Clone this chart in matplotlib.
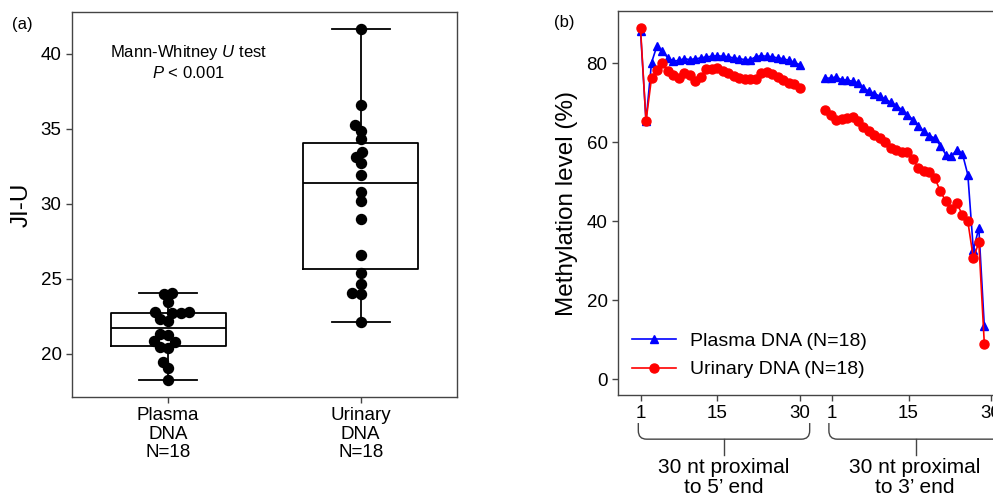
"""Panel (a) JI-U box plot with swarm points, panel (b) end-methylation profile."""

import matplotlib

matplotlib.use("Agg")

import matplotlib.pyplot as plt
import numpy as np
from matplotlib.patches import PathPatch
from matplotlib.path import Path
from matplotlib.transforms import blended_transform_factory

plt.rcParams["font.family"] = ["Liberation Sans", "DejaVu Sans"]
plt.rcParams["mathtext.fontset"] = "custom"
plt.rcParams["mathtext.rm"] = "Liberation Sans"
plt.rcParams["mathtext.it"] = "Liberation Sans:italic"

# ---- data ----
groups = ["Plasma\nDNA\nN=18", "Urinary\nDNA\nN=18"]
plasma_jiu = [18.29, 19.05, 19.49, 20.40, 20.44, 20.78, 20.84, 21.25, 21.30,
              22.20, 22.32, 22.70, 22.74, 22.77, 22.80, 23.49, 23.98, 24.04]
urinary_jiu = [22.13, 24.00, 24.09, 24.64, 25.38, 26.60, 28.98, 30.20, 30.82,
               31.93, 32.71, 33.16, 33.49, 34.30, 34.87, 35.27, 36.60, 41.65]

positions = np.arange(1, 31)
plasma_5p = [88.1, 65.3, 80.1, 84.4, 83.0, 81.3, 80.5, 80.7, 81.1, 80.9,
             81.1, 81.3, 81.6, 81.7, 81.9, 81.7, 81.6, 81.3, 81.1, 80.9,
             80.9, 81.6, 81.9, 81.7, 81.6, 81.3, 81.1, 80.7, 80.2, 79.6]
urinary_5p = [88.8, 65.3, 76.2, 78.3, 80.0, 77.9, 77.1, 76.2, 77.5, 77.1,
              75.4, 76.5, 78.4, 78.5, 78.8, 77.9, 77.5, 76.8, 76.2, 76.0,
              76.0, 76.0, 77.5, 77.7, 77.3, 76.5, 75.8, 75.0, 74.6, 73.7]
plasma_3p = [76.2, 76.2, 76.5, 75.8, 75.7, 75.4, 75.0, 73.7, 72.9, 72.3,
             71.6, 70.8, 70.1, 69.2, 68.2, 66.9, 65.7, 64.2, 62.7, 61.6,
             61.0, 59.1, 56.8, 56.4, 58.1, 57.1, 51.7, 32.7, 38.2, 13.3]
urinary_3p = [68.2, 66.9, 65.7, 65.9, 66.2, 66.4, 65.3, 63.8, 62.7, 61.9,
              61.0, 59.9, 58.5, 57.9, 57.6, 57.4, 55.7, 53.4, 52.8, 52.3,
              50.9, 47.5, 45.0, 43.0, 44.5, 41.6, 39.9, 30.6, 34.6, 8.9]
pos_ticks = [1, 15, 30]
series_labels = ["Plasma DNA (N=18)", "Urinary DNA (N=18)"]
region_labels = ["30 nt proximal\nto 5\u2019 end", "30 nt proximal\nto 3\u2019 end"]

SPINE = "#444444"
W, H = 993, 500


def swarm(ax, xc, values, diam_px):
    """Beeswarm offsets (data units) so dots of diam_px do not overlap."""
    pts = ax.transData.transform(np.column_stack([np.full(len(values), xc), values]))
    order = np.argsort(values)
    placed = []
    out = np.zeros(len(values))
    for idx in order:
        y = pts[idx, 1]
        cands = [0.0]
        for px, py in placed:
            dy = y - py
            if abs(dy) < diam_px:
                dx = np.sqrt(diam_px**2 - dy**2)
                cands += [px - dx, px + dx]
        cands.sort(key=abs)
        for c in cands:
            if all((c - px) ** 2 + (y - py) ** 2 >= diam_px**2 - 1e-6 for px, py in placed):
                break
        placed.append((c, y))
        out[idx] = c
    x0 = ax.transData.inverted().transform([[pts[0, 0], 0]])[0, 0]
    x1 = ax.transData.inverted().transform([[pts[0, 0] + 1, 0]])[0, 0]
    return xc + out * (x1 - x0)


def style_spines(ax):
    for s in ax.spines.values():
        s.set_color(SPINE)
        s.set_linewidth(1.0)
    ax.tick_params(colors=SPINE, labelcolor="black", labelsize=13.5, length=4, width=1.0)


def brace(ax, x0, x1, xm, y_top, y_mid, y_tip, r):
    trans = blended_transform_factory(ax.transData, ax.transAxes)
    verts = [(x0, y_top), (x0, y_mid + r[1]), (x0, y_mid), (x0 + r[0], y_mid),
             (x1 - r[0], y_mid), (x1, y_mid), (x1, y_mid + r[1]), (x1, y_top)]
    codes = [Path.MOVETO, Path.LINETO, Path.CURVE3, Path.CURVE3,
             Path.LINETO, Path.CURVE3, Path.CURVE3, Path.LINETO]
    ax.add_patch(PathPatch(Path(verts, codes), fill=False, lw=1.0, ec=SPINE,
                           transform=trans, clip_on=False))
    ax.plot([xm, xm], [y_mid, y_tip], color=SPINE, lw=1.0, transform=trans, clip_on=False)


fig = plt.figure(figsize=(W / 100, H / 100), dpi=100)

# ---- (a) ----
ax1 = fig.add_axes([72 / W, 103 / H, 385 / W, 385 / H])
ax1.set_xlim(0.5, 2.5)
ax1.set_ylim(17.13, 42.8)
line_kw = dict(color="black", linewidth=1.3)
ax1.boxplot([plasma_jiu, urinary_jiu], positions=[1, 2], widths=0.6, capwidths=0.3,
            showfliers=False, boxprops=line_kw, whiskerprops=line_kw, capprops=line_kw,
            medianprops=line_kw)
for xc, vals in zip([1, 2], [plasma_jiu, urinary_jiu]):
    xs = swarm(ax1, xc, vals, 8.5)
    ax1.plot(xs, vals, "o", color="black", markersize=7.2, zorder=3)
ax1.set_xticks([1, 2], labels=groups, linespacing=1.1)
ax1.set_yticks([20, 25, 30, 35, 40])
style_spines(ax1)
ax1.set_ylabel("JI-U", fontsize=17.5, labelpad=6)
ax1.text(1.105, 39.45, "Mann-Whitney $\\mathit{U}$ test\n$\\mathit{P}$ < 0.001",
         ha="center", va="center", fontsize=12, linespacing=1.25)
fig.text(12 / W, 1 - 25 / H, "(a)", ha="left", va="center", fontsize=12)

# ---- (b) ----
gap = 33.6
ax2 = fig.add_axes([618 / W, 105 / H, 385 / W, 384 / H])
ax2.set_xlim(-3.1, 67)
ax2.set_ylim(-4.05, 93.2)
pk = dict(color="#0000ff", marker="^", markersize=6, linewidth=1.2)
uk = dict(color="#ff0000", marker="o", markersize=6.5, linewidth=1.2)
h1, = ax2.plot(positions, plasma_5p, label=series_labels[0], **pk)
ax2.plot(positions + gap, plasma_3p, **pk)
h2, = ax2.plot(positions, urinary_5p, label=series_labels[1], **uk)
ax2.plot(positions + gap, urinary_3p, **uk)
ax2.set_xticks(pos_ticks + [p + gap + 1.2 for p in pos_ticks],
               labels=[str(p) for p in pos_ticks] * 2)
ax2.set_yticks([0, 20, 40, 60, 80])
style_spines(ax2)
ax2.set_ylabel("Methylation level (%)", fontsize=17.5, labelpad=6)
ax2.legend(handles=[h1, h2], loc="lower left", bbox_to_anchor=(0.0, 0.008),
           frameon=False, fontsize=14, handlelength=2.3, handletextpad=0.7,
           labelspacing=0.55, borderaxespad=0.3)

brace(ax2, 0.6, 31.8, 16.2, -0.073, -0.115, -0.156, (1.5, 0.022))
brace(ax2, 35.3, 69.0, 51.1, -0.073, -0.115, -0.156, (1.5, 0.022))
for xm, lab in zip([16.1, 51.0], region_labels):
    ax2.text(xm, -0.165, lab, transform=blended_transform_factory(ax2.transData, ax2.transAxes),
             ha="center", va="top", fontsize=15, linespacing=1.05)
fig.text(554 / W, 1 - 23 / H, "(b)", ha="left", va="center", fontsize=12)

fig.savefig("out.png", dpi=100)
plt.close(fig)
